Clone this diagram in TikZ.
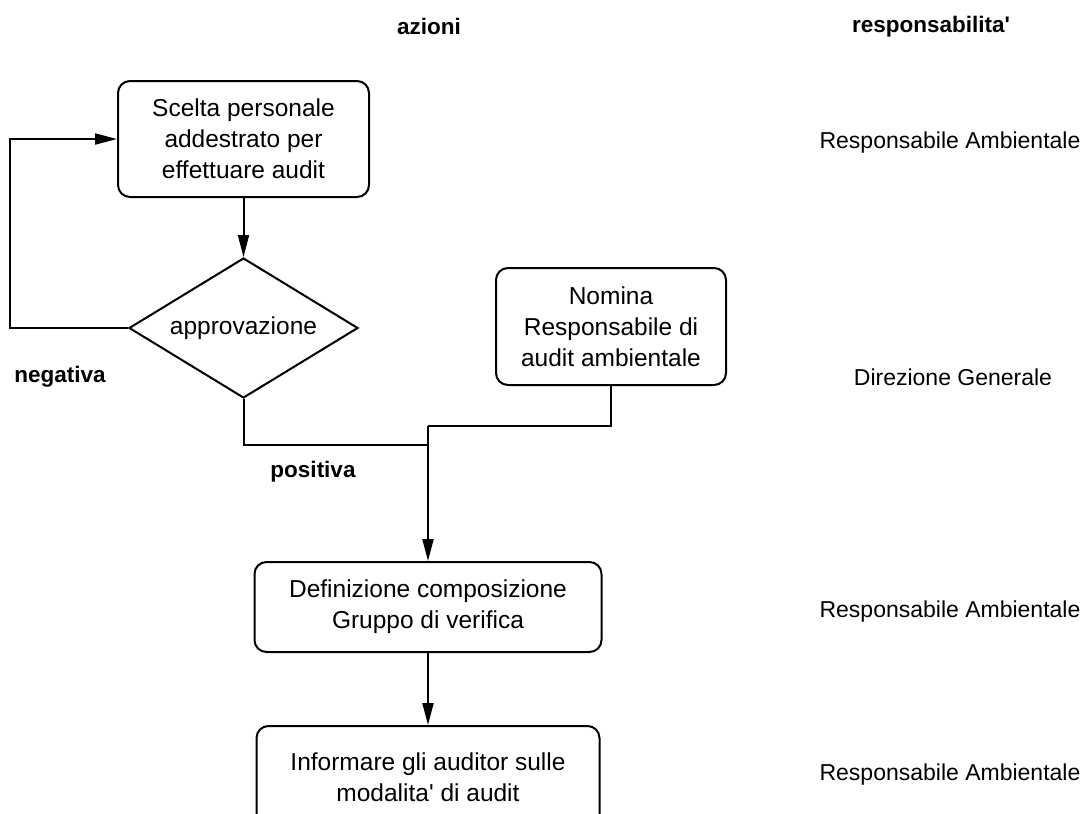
\documentclass[tikz,border=0pt]{standalone}
\usepackage{fontspec}
\setmainfont{Liberation Sans}
\usepackage{tikz}
\usetikzlibrary{shapes.geometric, arrows.meta, positioning}
\newcommand{\boxfont}{\fontsize{24.5}{31}\selectfont}
\newcommand{\respfont}{\fontsize{23}{28}\selectfont}
\newcommand{\hdrfont}{\fontsize{22.5}{27}\selectfont\bfseries}
\tikzset{
  block/.style={rectangle, draw=black, fill=white, align=center,
    font=\boxfont, rounded corners=12pt, line width=2pt, inner sep=0pt},
  decision/.style={diamond, draw=black, fill=white, aspect=1.636,
    font=\boxfont, line width=2pt, inner sep=0pt,
    minimum width=229pt, minimum height=140pt},
  arrow/.style={-{Triangle[length=22pt, width=11pt]}, line width=2pt, color=black},
  line/.style={line width=2pt, color=black},
  hdr/.style={font=\hdrfont, inner sep=0pt},
  resp/.style={font=\respfont, inner sep=0pt}
}
\begin{document}
\begin{tikzpicture}[x=1pt, y=-1pt]
  \useasboundingbox (0,0) rectangle (1085,814);
  \clip (0,0) rectangle (1085,814);

  \node[hdr] (azioni) at (429,26) {azioni};
  \node[hdr] (respons) at (931,27) {responsabilita\textquotesingle};

  \node[block, minimum width=251pt, minimum height=116pt] (scelta) at (243.5,139)
    {Scelta personale\\addestrato per\\effettuare audit};
  \node[decision] (appr) at (243.5,328) {approvazione};
  \node[block, minimum width=230pt, minimum height=117pt] (nomina) at (611,326.5)
    {Nomina\\Responsabile di\\audit ambientale};
  \node[block, minimum width=347pt, minimum height=90pt] (defin) at (428,607)
    {Definizione composizione\\Gruppo di verifica};
  \node[block, minimum width=343pt, minimum height=102pt] (inform) at (428,777)
    {Informare gli auditor sulle\\modalita\textquotesingle{} di audit};

  \node[hdr] (neg) at (60,377) {negativa};
  \node[hdr] (pos) at (313,472) {positiva};

  \node[resp] (resp1) at (950,143) {Responsabile Ambientale};
  \node[resp] (resp2) at (953,377) {Direzione Generale};
  \node[resp] (resp3) at (950,612) {Responsabile Ambientale};
  \node[resp] (resp4) at (950,775) {Responsabile Ambientale};

  \coordinate (loopc) at (10,328);
  \coordinate (mergeA) at (428,445);
  \coordinate (mergeB) at (428,426);

  \draw[arrow] (scelta.south) -- (appr.north);
  \draw[arrow] (appr.west) -- (loopc) |- (scelta.west);
  \draw[line] (appr.south) |- (mergeA);
  \draw[line] (nomina.south) |- (mergeB);
  \draw[arrow] (mergeB) -- (defin.north);
  \draw[arrow] (defin.south) -- (inform.north);
\end{tikzpicture}
\end{document}
